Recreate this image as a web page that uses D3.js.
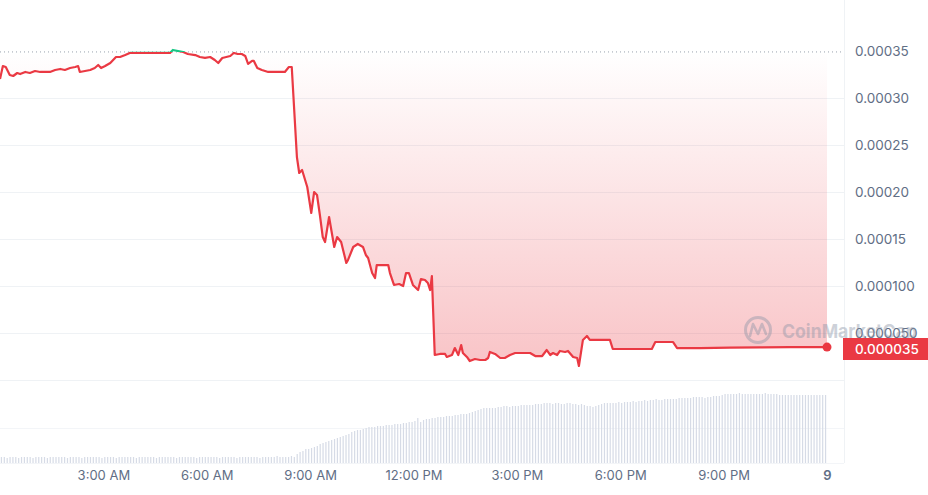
<!DOCTYPE html>
<html><head><meta charset="utf-8">
<script src="https://cdn.jsdelivr.net/npm/d3@7"></script>
<style>html,body{margin:0;padding:0;background:#fff;overflow:hidden}svg{display:block;font-family:Inter,"Noto Sans",sans-serif}</style>
</head><body><svg id="c" width="928" height="495"></svg>
<script>
// ---- data (minutes since midnight, price in USD) ----
const priceMinutes = [0,5,10,17,23,30,35,44,52,61,70,78,87,96,105,113,122,131,136,139,148,157,165,171,176,183,192,197,202,209,218,226,244,261,279,296,301,310,319,327,340,348,357,366,374,380,387,394,401,407,414,421,427,432,439,442,448,456,467,479,488,496,503,508,
517,521,526,535,542,547,552,557,562,566,573,582,587,594,603,606,615,623,632,637,641,648,653,656,667,676,679,686,695,702,707,712,719,728,733,740,745,749,752,757,766,775,778,787,792,798,803,806,813,818,827,836,845,850,853,862,871,879,888,897,905,914,923,932,944,952,958,963,970,975,984,989,998,1005,1008,1015,1022,1027,1045,1062,1067,1080,1114,1135,1141,1158,1172,1179,1219,1271,1323,1376,1440];
const priceValues = [0.0003202,0.000334,0.000333,0.0003245,0.0003234,0.0003266,0.0003255,0.0003277,0.0003266,0.0003287,0.0003277,0.0003277,0.0003277,0.0003298,0.0003309,0.0003298,0.0003319,0.000333,0.000334,0.0003277,0.0003287,0.0003298,0.0003319,0.0003351,0.0003319,0.000334,0.0003372,0.0003404,0.0003436,0.0003436,0.0003457,0.0003479,0.0003479,0.0003479,0.0003479,0.0003479,0.0003511,0.00035,0.0003489,0.0003468,0.0003457,0.0003436,0.0003426,0.0003436,0.0003404,0.0003372,0.0003426,0.0003436,0.0003447,0.0003479,0.0003468,0.0003468,0.0003447,0.0003362,0.0003394,0.0003394,0.0003319,0.0003298,0.0003277,0.0003277,0.0003277,0.0003277,0.000333,0.000333,
0.0002372,0.0002202,0.0002234,0.0002053,0.0001777,0.0002,0.0001968,0.0001755,0.0001521,0.0001468,0.0001734,0.0001415,0.0001521,0.0001468,0.0001245,0.0001277,0.0001415,0.0001447,0.0001415,0.000133,0.0001298,0.0001138,0.0001085,0.0001223,0.0001223,0.0001223,0.0001138,0.0001011,0.0001021,0.0001,0.0001138,0.0001138,0.0001011,0.0000957,0.0001074,0.0001064,0.0001032,0.0000957,0.0001106,0.0000266,0.0000277,0.0000277,0.0000245,0.0000266,0.000034,0.0000266,0.0000372,0.0000287,0.0000245,0.0000202,0.0000223,0.0000213,0.0000213,0.0000234,0.0000298,0.0000277,0.0000234,0.0000234,0.0000266,0.0000287,0.0000287,0.0000287,0.0000287,0.0000255,0.0000255,0.0000319,0.0000266,0.0000287,0.0000266,0.0000309,0.0000298,0.0000309,0.0000245,0.0000234,0.0000149,0.0000426,0.0000468,0.0000426,0.0000426,0.0000426,0.000033,0.000033,0.000033,0.000033,0.0000404,0.0000404,0.0000404,0.000034,0.000034,0.0000345,0.0000347,0.0000349,0.000035];
const baselinePrice = 0.000349;
const lastPriceLabel = "0.000035";
const yTickValues = [0.00005,0.0001,0.00015,0.0002,0.00025,0.0003,0.00035];
const yTickLabels = ["0.000050","0.000100","0.00015","0.00020","0.00025","0.00030","0.00035"];
const xTickMinutes = [180,360,540,720,900,1080,1260,1440];
const xTickLabels = ["3:00 AM","6:00 AM","9:00 AM","12:00 PM","3:00 PM","6:00 PM","9:00 PM","9"];
// 5-minute volume bars (relative units)
const volumeValues = [
6,6,5,6,6,6,5,6,6,6, 6,5,6,6,6,6,5,6,6,6, 6,6,6,5,6,6,6,6,5,6, 6,6,6,6,6,5,6,6,6,6,
5,6,6,6,6,6,6,5,6,6, 6,6,6,6,5,6,6,6,6,6, 6,5,6,6,6,6,6,6,5,6, 6,6,6,6,6,6,5,6,6,6,
6,6,5,6,6,6,6,6,6,6, 5,6,6,6,6,6,7,6,6,6, 6,7,
6,9,11,12,14,14,15,16,17,19, 20,21,22,23,24,25,26,27,28,29, 31,32,33,33,34,35,36,36,36,37,
37,37,38,38,38,39,39,39,40,40, 41,41,42,45,41,43,44,44,45,45, 46,46,46,47,47,47,48,48,49,49,
49,50,51,52,53,54,55,55,55,55, 55,56,56,57,57,56,57,57,57,58, 58,58,58,58,59,59,59,60,60,60,
59,60,60,59,59,60,60,59,59,58, 59,58,57,57,56,57,58,59,60,60, 60,60,60,61,60,61,61,61,62,61,
62,62,63,62,63,63,64,63,63,64, 64,64,64,64,65,65,65,65,65,66, 66,66,66,65,66,66,67,67,67,68,
69,69,69,69,69,70,69,69,69,69, 69,69,69,69,70,69,69,69,69,68, 68,68,68,68,68,68,68,68,68,68,
68,68,68,68,68,68];

// ---- drawing ----
const svg = d3.select("#c");
const W = 928, plotRight = 844;
const x = d3.scaleLinear().domain([0, 1440]).range([0, 827]);
const y = d3.scaleLinear().domain([0, 0.00035]).range([380, 51]);
const yv = d3.scaleLinear().domain([0, 82]).range([463, 381]);
const red = "#ea3943", green = "#16c784";
const price = priceMinutes.map((m, i) => ({m, p: priceValues[i]}));

// grid
const grid = svg.append("g");
yTickValues.slice(0, -1).concat([0]).forEach(v => {
  grid.append("line").attr("x1", 0).attr("x2", plotRight).attr("y1", Math.round(y(v)) + 0.5).attr("y2", Math.round(y(v)) + 0.5)
    .attr("stroke", "#eff2f5").attr("stroke-width", 1);
});
[yv(0), yv(35)].forEach(v => {
  grid.append("line").attr("x1", 0).attr("x2", plotRight).attr("y1", Math.round(v) + 0.5).attr("y2", Math.round(v) + 0.5)
    .attr("stroke", "#f3f5f8").attr("stroke-width", 1);
});
grid.append("line").attr("x1", plotRight + 0.5).attr("x2", plotRight + 0.5).attr("y1", 0).attr("y2", yv(0))
  .attr("stroke", "#eff2f5");

// volume bars
svg.append("g").selectAll("rect").data(volumeValues).join("rect")
  .attr("x", (d, i) => x(i * 5 + 2.5) - 0.6)
  .attr("width", 1.2)
  .attr("y", d => yv(d))
  .attr("height", d => yv(0) - yv(d))
  .attr("fill", "#d6dbe6");

// clip paths
const defs = svg.append("defs");
const yb = y(baselinePrice);
defs.append("clipPath").attr("id", "below").append("rect").attr("x", 0).attr("y", yb).attr("width", W).attr("height", 495);
defs.append("clipPath").attr("id", "above").append("rect").attr("x", 0).attr("y", 0).attr("width", W).attr("height", yb);
const grad = defs.append("linearGradient").attr("id", "g").attr("gradientUnits", "userSpaceOnUse")
  .attr("x1", 0).attr("x2", 0).attr("y1", yb).attr("y2", y(0.000015));
grad.append("stop").attr("offset", 0).attr("stop-color", red).attr("stop-opacity", 0);
grad.append("stop").attr("offset", 1).attr("stop-color", red).attr("stop-opacity", 0.3);

const area = d3.area().x(d => x(d.m)).y0(yb).y1(d => y(d.p));
svg.append("path").datum(price).attr("d", area).attr("fill", "url(#g)").attr("clip-path", "url(#below)");

// baseline dotted
svg.append("line").attr("x1", 0).attr("x2", plotRight).attr("y1", yb).attr("y2", yb)
  .attr("stroke", "#9aa1ad").attr("stroke-width", 1).attr("stroke-dasharray", "1,3");

const line = d3.line().x(d => x(d.m)).y(d => y(d.p));
svg.append("path").datum(price).attr("d", line).attr("fill", "none").attr("stroke", red).attr("stroke-width", 2.2)
  .attr("stroke-linejoin", "round").attr("clip-path", "url(#below)");
svg.append("path").datum(price).attr("d", line).attr("fill", "none").attr("stroke", green).attr("stroke-width", 2.2)
  .attr("stroke-linejoin", "round").attr("clip-path", "url(#above)");

// axes
const yAxis = d3.axisRight(y).tickValues(yTickValues).tickFormat((d, i) => yTickLabels[i]).tickSize(0).tickPadding(11);
const ya = svg.append("g").attr("transform", `translate(${plotRight},0)`).call(yAxis);
ya.select(".domain").remove();
ya.selectAll("text").attr("fill", "#616e85").style("font-size", "13.5px").style("font-family", "Inter,sans-serif");

const xAxis = d3.axisBottom(x).tickValues(xTickMinutes).tickFormat((d, i) => xTickLabels[i]).tickSize(0).tickPadding(0);
const xa = svg.append("g").attr("transform", `translate(0,471)`).call(xAxis);
xa.select(".domain").remove();
xa.selectAll("text").attr("fill", "#616e85").style("font-size", "13px").style("font-family", "Inter,sans-serif")
  .style("font-weight", (d, i) => i === xTickLabels.length - 1 ? 600 : 400);

// watermark
const wm = svg.append("g").attr("opacity", 0.42);
wm.append("circle").attr("cx", 758).attr("cy", 330).attr("r", 12.5).attr("fill", "none").attr("stroke", "#8a94a6").attr("stroke-width", 3);
wm.append("path").attr("d", "M750,336 L753,324 L758,334 L762,324 L766,334")
  .attr("fill", "none").attr("stroke", "#8a94a6").attr("stroke-width", 2.6).attr("stroke-linejoin", "round").attr("stroke-linecap", "round");
wm.append("text").attr("x", 782).attr("y", 338).attr("textLength", 135).attr("lengthAdjust", "spacingAndGlyphs")
  .style("font-size", "19px").style("font-weight", 700).attr("fill", "#8a94a6").text("CoinMarketCap");

// last price
const last = price[price.length - 1];
svg.append("circle").attr("cx", x(last.m)).attr("cy", y(last.p)).attr("r", 4.5).attr("fill", red);
svg.append("rect").attr("x", plotRight - 1).attr("y", 338).attr("width", W - plotRight + 1).attr("height", 22).attr("fill", red);
svg.append("text").attr("x", 855).attr("y", 349).attr("dy", "0.35em").attr("fill", "#fff")
  .style("font-size", "13.5px").style("font-weight", 500).text(lastPriceLabel);
</script></body></html>
